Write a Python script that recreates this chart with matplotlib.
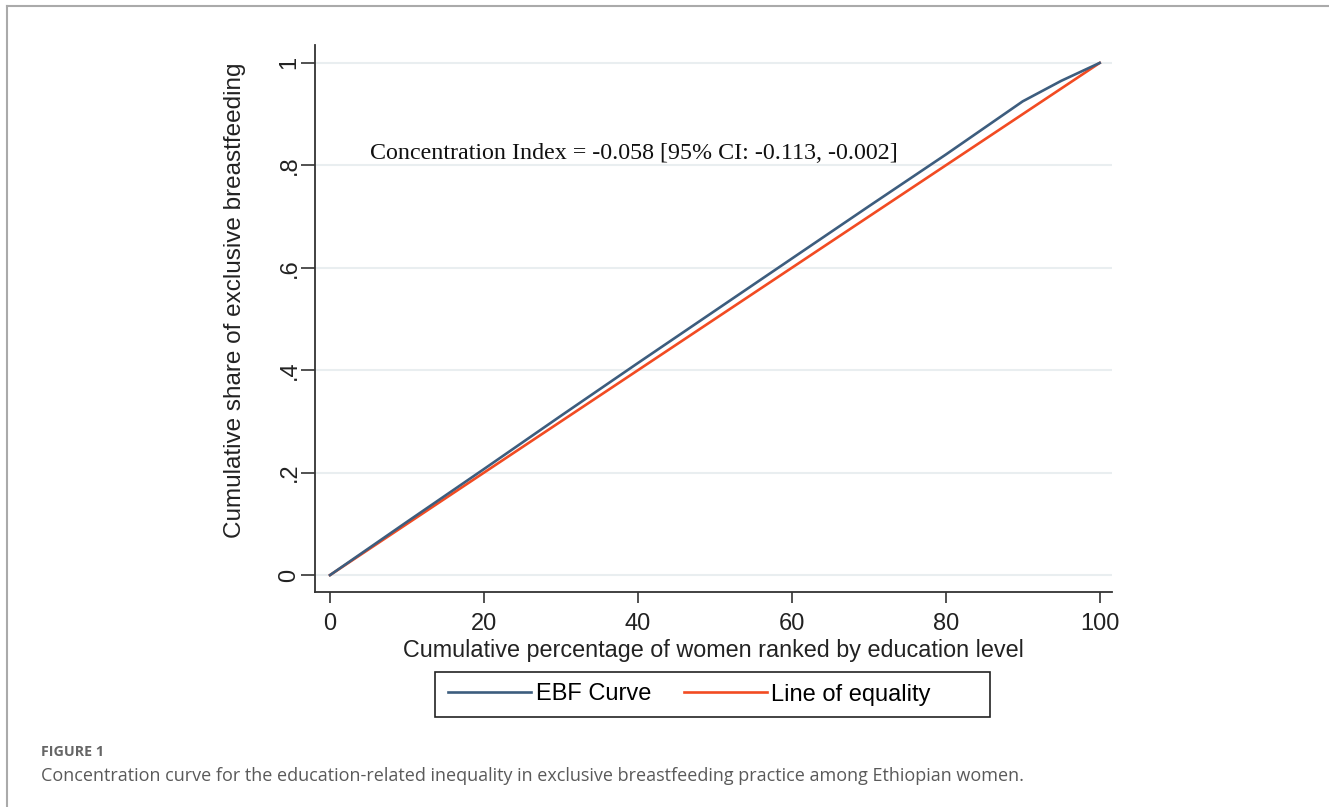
import matplotlib
matplotlib.use("Agg")
import matplotlib.pyplot as plt
from matplotlib.lines import Line2D
from matplotlib.patches import Rectangle

# Data
pct_women = [0, 10, 20, 30, 40, 50, 60, 70, 80, 90, 95, 100]
ebf_share = [0, 0.104, 0.207, 0.311, 0.414, 0.516, 0.618, 0.720, 0.821, 0.925, 0.965, 1.0]
equality_x = [0, 100]
equality_y = [0, 1]
x_ticks = [0, 20, 40, 60, 80, 100]
y_ticks = [0, 0.2, 0.4, 0.6, 0.8, 1.0]
y_tick_labels = ["0", ".2", ".4", ".6", ".8", "1"]

fig = plt.figure(figsize=(13.29, 8.07), dpi=100)
W, H = 1329, 807

ax = fig.add_axes([315 / W, 1 - 592 / H, (1112 - 315) / W, (592 - 45) / H])
ax.set_xlim(-1.95, 101.6)
ax.set_ylim(-0.033, 1.035)

blue = "#3d5d7e"
red = "#f24b22"
ax.plot(pct_women, ebf_share, color=blue, lw=1.9, label="EBF Curve", zorder=3)
ax.plot(equality_x, equality_y, color=red, lw=1.9, label="Line of equality", zorder=2)

for s in ["top", "right"]:
    ax.spines[s].set_visible(False)
for s in ["left", "bottom"]:
    ax.spines[s].set_color("#333333")
    ax.spines[s].set_linewidth(1.3)

ax.set_yticks(y_ticks)
ax.set_yticklabels(y_tick_labels, rotation=90, va="center")
ax.set_xticks(x_ticks)
ax.tick_params(axis="x", length=8, width=1.2, color="#333333", labelsize=17,
               labelcolor="#222222", pad=7)
ax.tick_params(axis="y", length=10, width=1.2, color="#333333", labelsize=17,
               labelcolor="#222222", pad=0.5)
for lbl in ax.get_xticklabels() + ax.get_yticklabels():
    lbl.set_family("Liberation Sans")

ax.yaxis.grid(True, color="#e9eef0", lw=1.5)
ax.xaxis.grid(False)
ax.set_axisbelow(True)

ax.set_xlabel("Cumulative percentage of women ranked by education level",
              fontsize=16.8, family="Liberation Sans", color="#222222", labelpad=3)
ax.set_ylabel("Cumulative share of exclusive breastfeeding",
              fontsize=17.5, family="Liberation Sans", color="#222222")
ax.yaxis.set_label_coords((246 - 315) / (1112 - 315), (592 - 300) / (592 - 45))

ax.text(5.2, 0.824, "Concentration Index = -0.058 [95% CI: -0.113, -0.002]",
        family="Liberation Serif", fontsize=17.3, color="#111111", va="center", ha="left")

handles, labels = ax.get_legend_handles_labels()
leg = fig.legend(handles, labels, loc="center", bbox_to_anchor=(689.5 / W, 1 - 694.5 / H),
                 ncol=2, frameon=False,
                 prop={"family": "Liberation Sans", "size": 17}, handlelength=3.5,
                 handletextpad=0.2, columnspacing=1.4, borderpad=0.35, borderaxespad=0)
fig.add_artist(Rectangle((435 / W, 1 - 717 / H), (990 - 435) / W, (717 - 672) / H,
                         transform=fig.transFigure, fill=False, edgecolor="#222222", lw=1.2))

# Page frame
fig.add_artist(Line2D([7 / W, 1], [1 - 6 / H, 1 - 6 / H], color="#aaaaaa", lw=1.5,
                      transform=fig.transFigure))
fig.add_artist(Line2D([7 / W, 7 / W], [0, 1 - 6 / H], color="#aaaaaa", lw=1.5,
                      transform=fig.transFigure))

fig.text(41 / W, 1 - 752 / H, "FIGURE 1", fontsize=10.3, family="Open Sans",
         color="#666666", va="center", ha="left", fontweight="bold")
fig.text(41 / W, 1 - 776 / H,
         "Concentration curve for the education-related inequality in exclusive breastfeeding practice among Ethiopian women.",
         fontsize=13.0, family="Open Sans", color="#5a5a5a", va="center", ha="left")

fig.savefig("out.png", dpi=100)
